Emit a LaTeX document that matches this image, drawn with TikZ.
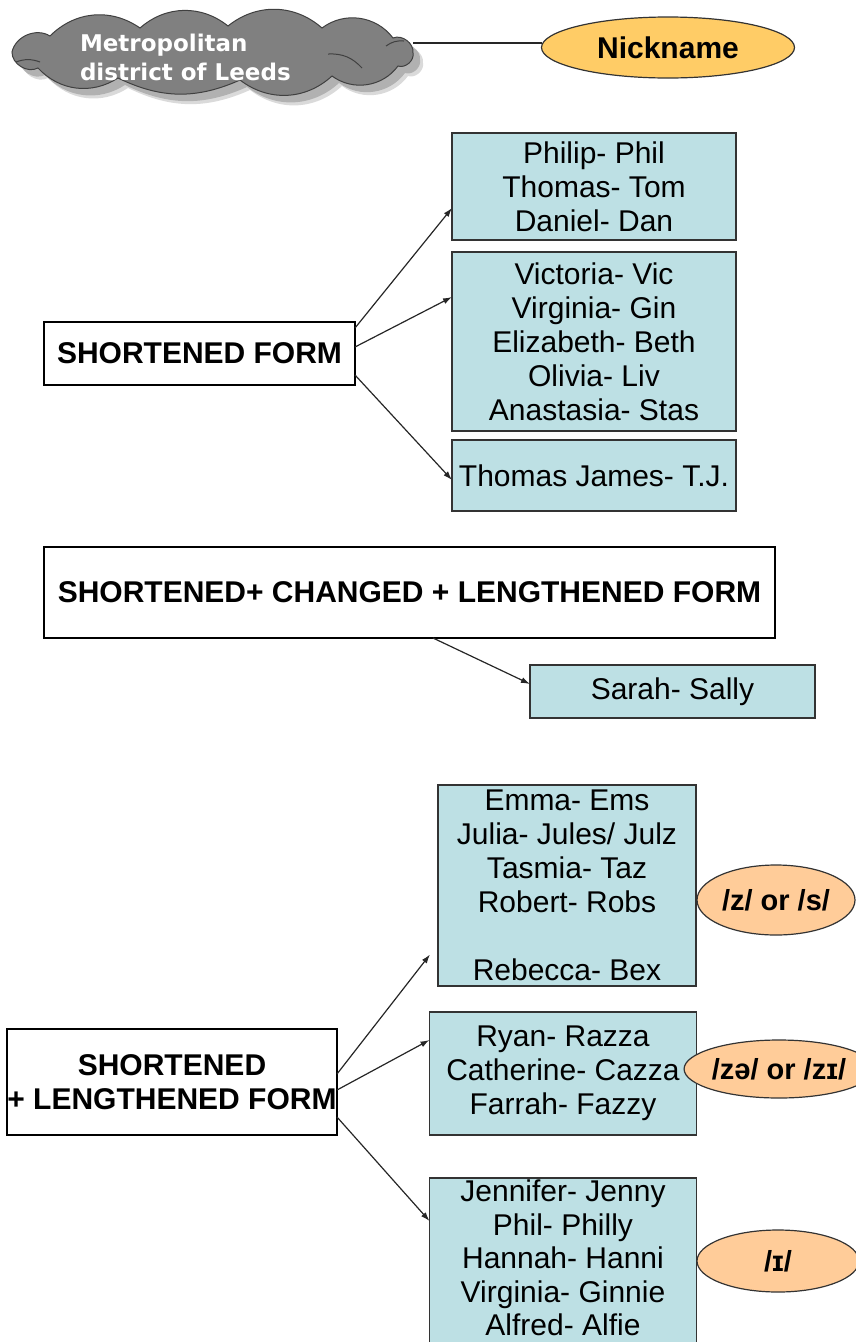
\documentclass[tikz,border=0pt]{standalone}
\usepackage{fontspec}
\setmainfont{Liberation Sans}
\newfontfamily\cloudfont{DejaVu Sans}
\usetikzlibrary{shapes.geometric,calc,arrows.meta}
\definecolor{namefill}{RGB}{189,224,228}
\definecolor{nickfill}{RGB}{255,204,102}
\definecolor{soundfill}{RGB}{255,204,153}
\definecolor{cloudfill}{RGB}{128,128,128}
\definecolor{cloudshade}{RGB}{150,150,150}
% outline of the cloud, puff by puff
\def\cloudpath{(12,52) to[bend left=55] (50,36) to[bend left=40] (140,28)
  to[bend left=40] (228,26) to[bend left=40] (322,28) to[bend left=45] (393,38)
  to[bend left=60] (413,53) to[bend left=60] (398,66) to[bend left=45] (332,76)
  to[bend left=40] (240,80) to[bend left=25] (118,78) to[bend left=40] (38,68)
  to[bend left=60] cycle}
\begin{document}
\begin{tikzpicture}[x=1pt,y=-1pt,
  every node/.style={inner sep=0pt, outer sep=0pt},
  namebox/.style={draw=black!80, line width=1.2pt, fill=namefill, align=center,
    font=\fontsize{30}{34}\selectfont},
  formbox/.style={draw=black, line width=1.2pt, fill=white, align=center,
    font=\bfseries\fontsize{30}{34}\selectfont},
  sound/.style={ellipse, draw=black!80, line width=1.2pt, fill=soundfill,
    font=\bfseries\fontsize{29}{34}\selectfont},
  link/.style={draw=black!85, line width=1.2pt,
    -{Latex[length=9pt,width=6pt]}}]
\useasboundingbox (0,0) rectangle (856,1342);

% header: cloud with soft shadow, and the nickname oval
\fill[cloudshade, opacity=0.35, shift={(10,10)}] \cloudpath;
\fill[cloudshade, opacity=0.6, shift={(7,7)}] \cloudpath;
\filldraw[fill=cloudfill, draw=black!75, line width=1pt] \cloudpath;
\draw[black!75, line width=1pt] (328,54) to[bend left=25] (362,68);
\draw[black!75, line width=1pt] (386,46) to[bend left=20] (404,41);
\draw[black!75, line width=1pt] (16,62) to[bend left=20] (40,62);
\coordinate (cloudtip) at (413,43);
\node[anchor=west, align=left, text=white,
  font=\cloudfont\bfseries\fontsize{23}{29}\selectfont] (leedstext) at (80,57.5)
  {Metropolitan\\district of Leeds};
\node[ellipse, draw=black!80, line width=1.2pt, fill=nickfill,
  minimum width=253pt, minimum height=61pt,
  font=\bfseries\fontsize{30}{34}\selectfont] (nick) at (668,47.5) {Nickname};
\draw[line width=1.2pt, black!85] (nick.west |- cloudtip) -- (cloudtip);

% shortened form
\node[formbox, minimum width=311pt, minimum height=63pt] (sf) at (199.5,353.5)
  {SHORTENED FORM};
\node[namebox, minimum width=284pt, minimum height=107pt] (b1) at (594,186.5)
  {Philip- Phil\\Thomas- Tom\\Daniel- Dan};
\node[namebox, minimum width=284pt, minimum height=179pt] (b2) at (594,341.5)
  {Victoria- Vic\\Virginia- Gin\\Elizabeth- Beth\\Olivia- Liv\\Anastasia- Stas};
\node[namebox, minimum width=284pt, minimum height=71pt] (b3) at (594,475.5)
  {Thomas James- T.J.};
\draw[link] ($(sf.north east)+(0,6)$) -- ($(b1.west)+(0,21.5)$);
\draw[link] ($(sf.east)+(0,-6.5)$) -- ($(b2.west)+(0,-44.5)$);
\draw[link] ($(sf.east)+(0,21.5)$) -- ($(b3.west)+(0,4.5)$);

% shortened + changed + lengthened form
\node[formbox, minimum width=731pt, minimum height=91pt] (scl) at (409.5,592.5)
  {SHORTENED+ CHANGED + LENGTHENED FORM};
\node[namebox, minimum width=285pt, minimum height=53pt] (sally) at (672.5,691.5)
  {Sarah- Sally};
\draw[link] ($(scl.south)+(23.5,0)$) -- ($(sally.west)+(0,-7.5)$);

% shortened + lengthened form
\node[formbox, minimum width=330pt, minimum height=106pt] (sl) at (172,1082)
  {SHORTENED\\+ LENGTHENED FORM};
\node[namebox, minimum width=258pt, minimum height=201pt] (e1) at (567,885.5)
  {Emma- Ems\\Julia- Jules/ Julz\\Tasmia- Taz\\Robert- Robs\\[34pt]Rebecca- Bex};
\node[namebox, minimum width=267pt, minimum height=123pt] (e2) at (563,1073.5)
  {Ryan- Razza\\Catherine- Cazza\\Farrah- Fazzy};
\node[namebox, minimum width=267pt, minimum height=166pt] (e3) at (563,1261)
  {};
\node[align=center, font=\fontsize{30}{33.5}\selectfont] (e3text) at (563,1258)
  {Jennifer- Jenny\\Phil- Philly\\Hannah- Hanni\\Virginia- Ginnie\\Alfred- Alfie};
\coordinate (e1tip) at ($(e1.west)+(-8,69)$);
\draw[link] ($(sl.east)+(0,-8)$) -- (e1tip);
\draw[link] ($(sl.east)+(0,8)$) -- ($(e2.west)+(0,-33.5)$);
\draw[link] ($(sl.east)+(0,35)$) -- ($(e3.west)+(0,-40)$);

% sound endings
\node[sound, minimum width=158pt, minimum height=70pt] (s1) at (776,900) {/z/ or /s/};
\node[sound, minimum width=168pt, minimum height=58pt] (s2) at (779,1069) {/zə/ or /zɪ/};
\node[sound, minimum width=162pt, minimum height=62pt] (s3) at (778,1261) {/ɪ/};
\end{tikzpicture}
\end{document}
